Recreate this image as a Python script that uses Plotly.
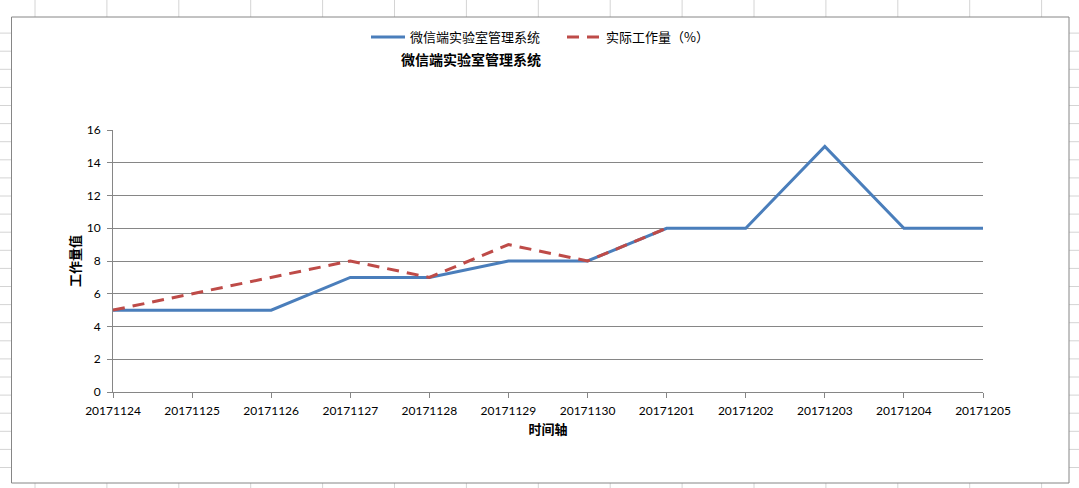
import plotly.graph_objects as go

dates = ["20171124", "20171125", "20171126", "20171127", "20171128", "20171129",
         "20171130", "20171201", "20171202", "20171203", "20171204", "20171205"]
planned = [5, 5, 5, 7, 7, 8, 8, 10, 10, 15, 10, 10]
actual = [5, 6, 7, 8, 7, 9, 8, 10, None, None, None, None]

series_names = ["微信端实验室管理系统", "实际工作量（%）"]
chart_title = "微信端实验室管理系统"
x_title = "时间轴"
y_title = "工作量值"
y_ticks = [0, 2, 4, 6, 8, 10, 12, 14, 16]

W, H = 1079, 488
L, R, T, B = 113, 983, 130, 392  # plot area in px

def px_x(p):
    return (p - L) / (R - L)

def px_y(p):
    return (B - p) / (B - T)

fig = go.Figure()
fig.add_trace(go.Scatter(x=dates, y=planned, mode="lines", name=series_names[0],
                         line=dict(color="#4A7EBB", width=3)))
fig.add_trace(go.Scatter(x=dates, y=actual, mode="lines", name=series_names[1],
                         line=dict(color="#BE4B48", width=3, dash="12px,8px")))

shapes = []
grid_col = "#D4D4D4"
# spreadsheet cell grid outside chart area
xs = [35 + 71.9 * k for k in range(0, 15)]
for gx in xs:
    if 0 <= gx <= W:
        shapes.append(dict(type="line", xref="paper", yref="paper",
                           x0=px_x(gx), x1=px_x(gx), y0=px_y(0), y1=px_y(17),
                           line=dict(color=grid_col, width=1), layer="below"))
        shapes.append(dict(type="line", xref="paper", yref="paper",
                           x0=px_x(gx), x1=px_x(gx), y0=px_y(483), y1=px_y(H),
                           line=dict(color=grid_col, width=1), layer="below"))
ys = [15 + 18.1 * k for k in range(0, 27)]
for gy in ys:
    if 17 <= gy <= 483:
        shapes.append(dict(type="line", xref="paper", yref="paper",
                           x0=px_x(0), x1=px_x(11), y0=px_y(gy), y1=px_y(gy),
                           line=dict(color=grid_col, width=1), layer="below"))
        shapes.append(dict(type="line", xref="paper", yref="paper",
                           x0=px_x(1069), x1=px_x(W), y0=px_y(gy), y1=px_y(gy),
                           line=dict(color=grid_col, width=1), layer="below"))
# chart area border
shapes.append(dict(type="rect", xref="paper", yref="paper",
                   x0=px_x(11.5), x1=px_x(1069), y0=px_y(483), y1=px_y(17),
                   line=dict(color="#868686", width=1), fillcolor="white", layer="below"))

fig.update_layout(
    width=W, height=H, autosize=False,
    margin=dict(l=L, r=W - R, t=T, b=H - B, pad=0),
    paper_bgcolor="white", plot_bgcolor="white",
    font=dict(family="Lato, 'Noto Sans CJK SC', sans-serif", size=12, color="#000000"),
    title=dict(text="<b>" + chart_title + "</b>", x=471 / W, xanchor="center",
               xref="container", y=1 - 60 / H, yanchor="middle", yref="container",
               font=dict(family="'Noto Sans CJK SC', sans-serif", size=14, color="#000")),
    legend=dict(orientation="h", x=px_x(562), xanchor="center", y=px_y(37), yanchor="middle",
                font=dict(family="'Noto Sans CJK SC', sans-serif", size=13, color="#000"),
                bgcolor="rgba(0,0,0,0)", itemwidth=34, entrywidth=147,
                entrywidthmode="pixels", tracegroupgap=0),
    shapes=shapes,
    xaxis=dict(type="category", range=[0, 11], showgrid=False, showline=True,
               linecolor="#868686", linewidth=1, ticks="outside", ticklen=5,
               tickcolor="#868686", tickfont=dict(size=12), ticklabelstandoff=3,
               title=dict(text="<b>" + x_title + "</b>", standoff=7,
                          font=dict(family="'Noto Sans CJK SC', sans-serif", size=13))),
    yaxis=dict(range=[0, 16], tickvals=y_ticks, showgrid=True, gridcolor="#868686",
               gridwidth=1, showline=True, linecolor="#868686", linewidth=1,
               ticks="outside", ticklen=5, tickcolor="#868686", zeroline=False,
               tickfont=dict(size=12), ticklabelstandoff=4,
               title=dict(text="<b>" + y_title + "</b>", standoff=3,
                          font=dict(family="'Noto Sans CJK SC', sans-serif", size=13))),
)

fig.write_html("out.html", config={"displayModeBar": False},
               post_script="document.body.style.margin='0';document.body.style.overflow='hidden';")
